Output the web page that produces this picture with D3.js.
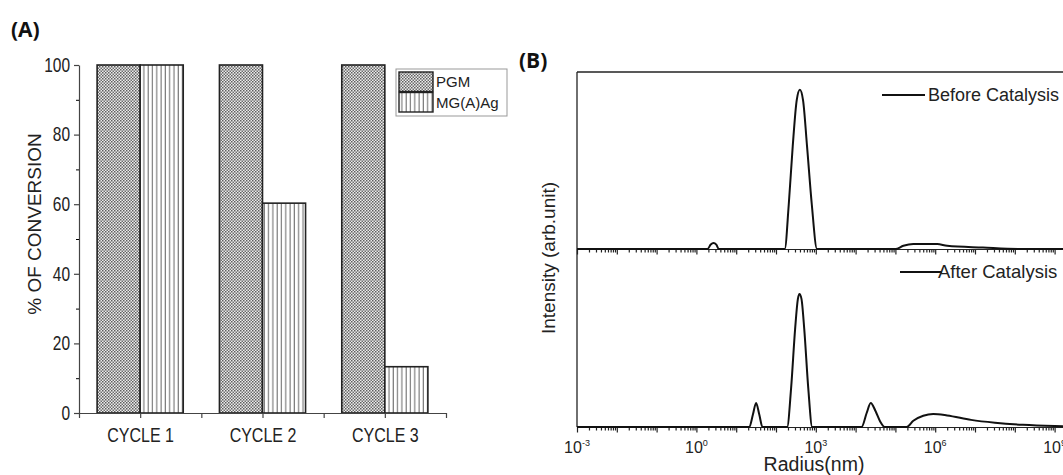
<!DOCTYPE html>
<html>
<head>
<meta charset="utf-8">
<script src="https://cdn.jsdelivr.net/npm/d3@7"></script>
<style>
  body { margin: 0; background: #fff; }
  svg { display: block; }
  text { font-family: "Liberation Sans", Arial, sans-serif; fill: #222; }
  .panel-tag { font-family: "Open Sans", sans-serif; font-weight: 700; fill: #111; }
</style>
</head>
<body>
<div id="chart"></div>
<script>
// ---- panel A data ----
const cycles = ["CYCLE 1", "CYCLE 2", "CYCLE 3"];
const pgmValues = [100, 100, 100];
const mgAgValues = [100, 60.3, 13.3];
const seriesNames = ["PGM", "MG(A)Ag"];
const yTicksA = [0, 20, 40, 60, 80, 100];

// ---- panel B data (log10 of radius in nm, intensity in arb. units) ----
const beforeLogR = [-3, 0.28, 0.36, 0.43, 0.5, 0.56, 2.22, 2.32, 2.42, 2.52, 2.6, 2.68, 2.78, 2.9, 3.03,
                    5.0, 5.2, 5.45, 6.05, 6.3, 7.2, 8.1, 10];
const beforeInt  = [0, 0, 2.5, 3.4, 2.5, 0, 0, 25, 58, 84, 90, 84, 58, 25, 0,
                    0, 1.8, 2.8, 2.8, 1.8, 0.8, 0, 0];
const afterLogR  = [-3, 1.33, 1.42, 1.5, 1.58, 1.66, 2.28, 2.38, 2.48, 2.55, 2.59, 2.64, 2.71, 2.81, 2.91,
                    4.15, 4.28, 4.38, 4.5, 4.62, 4.73, 5.28, 5.45, 5.7, 5.95, 6.3, 6.9, 7.5, 8.2, 9, 10];
const afterInt   = [0, 0, 7, 13.5, 7, 0, 0, 22, 55, 72, 74.7, 72, 55, 22, 0,
                    0, 8, 13.5, 9, 3, 0, 0, 3.5, 6.3, 7.3, 6.5, 4, 2.4, 1.2, 0.5, 0.2];
const decadeLabels = [-3, 0, 3, 6, 9];

const width = 1063, height = 475;
const svg = d3.select("#chart").append("svg")
  .attr("width", width).attr("height", height);

// ---------- patterns ----------
const defs = svg.append("defs");
const checker = defs.append("pattern").attr("id", "checker")
  .attr("patternUnits", "userSpaceOnUse").attr("width", 3).attr("height", 3);
checker.append("rect").attr("width", 3).attr("height", 3).attr("fill", "#ececec");
checker.append("rect").attr("width", 1.5).attr("height", 1.5).attr("fill", "#5e5e5e");
checker.append("rect").attr("x", 1.5).attr("y", 1.5).attr("width", 1.5).attr("height", 1.5).attr("fill", "#6e6e6e");

const stripes = defs.append("pattern").attr("id", "stripes")
  .attr("patternUnits", "userSpaceOnUse").attr("width", 4.3).attr("height", 10);
stripes.append("rect").attr("width", 4.3).attr("height", 10).attr("fill", "#fff");
stripes.append("line").attr("x1", 2).attr("x2", 2).attr("y1", 0).attr("y2", 10)
  .attr("stroke", "#7a7a7a").attr("stroke-width", 1.2);

const fills = ["url(#checker)", "url(#stripes)"];

// ================= PANEL A =================
svg.append("text").attr("class", "panel-tag").attr("x", 11).attr("y", 37)
  .style("font-size", "21px").text("(A)");

const xA = d3.scaleLinear().domain([0.5, 3.5]).range([79, 446]);
const yA = d3.scaleLinear().domain([0, 100]).range([413, 65]);
const bw = 0.352;

const gA = svg.append("g");

cycles.forEach((c, i) => {
  const vals = [pgmValues[i], mgAgValues[i]];
  vals.forEach((v, j) => {
    const x0 = j === 0 ? xA(i + 1 - bw) : xA(i + 1);
    const x1 = j === 0 ? xA(i + 1) : xA(i + 1 + bw);
    gA.append("rect")
      .attr("x", x0).attr("y", yA(v))
      .attr("width", x1 - x0).attr("height", yA(0) - yA(v))
      .attr("fill", fills[j])
      .attr("stroke", "#222").attr("stroke-width", 1.6);
  });
});

// y axis
const yAxisA = gA.append("g").attr("transform", `translate(${xA.range()[0]},0)`)
  .call(d3.axisLeft(yA).tickValues(yTicksA).tickSize(5).tickSizeOuter(0).tickPadding(4));
yAxisA.selectAll("text").style("font-size", "15.5px").attr("transform", "scale(1,1.25)");
gA.append("g").attr("transform", `translate(${xA.range()[0]},0)`)
  .call(d3.axisLeft(yA).tickValues([10, 30, 50, 70, 90]).tickSize(3).tickFormat(""))
  .select(".domain").remove();

// x axis
const xAxisA = gA.append("g").attr("transform", `translate(0,${yA(0)})`)
  .call(d3.axisBottom(xA).tickValues([0.5, 1, 1.5, 2, 2.5, 3, 3.5]).tickSize(5).tickSizeOuter(0)
    .tickFormat(d => Number.isInteger(d) ? cycles[d - 1] : ""));
xAxisA.selectAll("text").style("font-size", "16px")
  .attr("y", 23.5).attr("dy", 0).attr("transform", "scale(1,1.25)");
[yAxisA, xAxisA].forEach(a => {
  a.selectAll("path,line").attr("stroke", "#444").attr("stroke-width", 1.2);
  a.selectAll("text").style("fill", "#222");
});

gA.append("text")
  .attr("transform", "translate(41,224) rotate(-90)")
  .attr("text-anchor", "middle")
  .style("font-size", "19px")
  .text("% OF CONVERSION");

// legend
const leg = gA.append("g");
leg.append("rect").attr("x", 396).attr("y", 69).attr("width", 111).attr("height", 47)
  .attr("fill", "#fff").attr("stroke", "#999").attr("stroke-width", 1);
seriesNames.forEach((s, j) => {
  leg.append("rect").attr("x", 399).attr("y", 72 + j * 20.5).attr("width", 34).attr("height", 19.5)
    .attr("fill", fills[j]).attr("stroke", "#222").attr("stroke-width", 1.4);
  leg.append("text").attr("x", 436).attr("y", 87 + j * 21)
    .style("font-size", "15px").text(s);
});

// ================= PANEL B =================
svg.append("text").attr("class", "panel-tag").attr("x", 519).attr("y", 68)
  .style("font-size", "21px").text("(B)");

const xB = d3.scaleLog().domain([1e-3, 1e10]).range([577, 577 + 13 * 39.8]);
const yTop = d3.scaleLinear().domain([0, 100]).range([249, 72]);
const yBot = d3.scaleLinear().domain([0, 100]).range([427, 249]);

const gB = svg.append("g");

// frame
gB.append("line").attr("x1", xB(1e-3)).attr("x2", xB(1e-3)).attr("y1", yTop(100)).attr("y2", yBot(0))
  .attr("stroke", "#222").attr("stroke-width", 1.3);
gB.append("line").attr("x1", xB(1e-3)).attr("x2", width + 10).attr("y1", yTop(100)).attr("y2", yTop(100))
  .attr("stroke", "#222").attr("stroke-width", 1.3);

// tick values: every decade with minor 2..9
const allTicks = [];
for (let e = -3; e < 10; e++) {
  for (let m = 1; m < 10; m++) allTicks.push(m * Math.pow(10, e));
}
allTicks.push(1e10);
const majors = allTicks.filter(t => Math.abs(Math.log10(t) - Math.round(Math.log10(t))) < 1e-9);
const minors = allTicks.filter(t => !majors.includes(t));

function logAxis(yPos, labelled) {
  const g = gB.append("g").attr("transform", `translate(0,${yPos})`);
  g.call(d3.axisBottom(xB).tickValues(minors).tickSize(3.5).tickSizeOuter(0).tickFormat(""));
  const gm = gB.append("g").attr("transform", `translate(0,${yPos})`)
    .call(d3.axisBottom(xB).tickValues(majors).tickSize(5.5).tickSizeOuter(0).tickFormat(""));
  gm.select(".domain").remove();
  [g, gm].forEach(a => a.selectAll("path,line").attr("stroke", "#222").attr("stroke-width", 1.2));
  if (labelled) {
    decadeLabels.forEach(e => {
      const t = gB.append("text").attr("x", xB(Math.pow(10, e))).attr("y", yPos + 26)
        .attr("text-anchor", "middle").style("font-size", "16px");
      t.append("tspan").text("10");
      t.append("tspan").attr("dy", -7).style("font-size", "9px").text(e);
    });
  }
}
logAxis(yTop(0), false);
logAxis(yBot(0), true);

const lineTop = d3.line().x(d => xB(Math.pow(10, d[0]))).y(d => yTop(d[1])).curve(d3.curveMonotoneX);
const lineBot = d3.line().x(d => xB(Math.pow(10, d[0]))).y(d => yBot(d[1])).curve(d3.curveMonotoneX);

gB.append("path").datum(d3.zip(beforeLogR, beforeInt)).attr("d", lineTop)
  .attr("fill", "none").attr("stroke", "#111").attr("stroke-width", 2);
gB.append("path").datum(d3.zip(afterLogR, afterInt)).attr("d", lineBot)
  .attr("fill", "none").attr("stroke", "#111").attr("stroke-width", 2);

// series labels
gB.append("line").attr("x1", 882).attr("x2", 925).attr("y1", 95).attr("y2", 95)
  .attr("stroke", "#111").attr("stroke-width", 2);
gB.append("text").attr("x", 928).attr("y", 101).style("font-size", "18px").text("Before Catalysis");
gB.append("line").attr("x1", 900).attr("x2", 942).attr("y1", 272).attr("y2", 272)
  .attr("stroke", "#111").attr("stroke-width", 2);
gB.append("text").attr("x", 938).attr("y", 278).style("font-size", "18.5px").text("After Catalysis");

// axis titles
gB.append("text").attr("x", 814).attr("y", 471).attr("text-anchor", "middle")
  .style("font-size", "19.5px").text("Radius(nm)");
gB.append("text").attr("transform", "translate(555,258) rotate(-90)")
  .attr("text-anchor", "middle").style("font-size", "19px").text("Intensity (arb.unit)");
</script>
</body>
</html>
